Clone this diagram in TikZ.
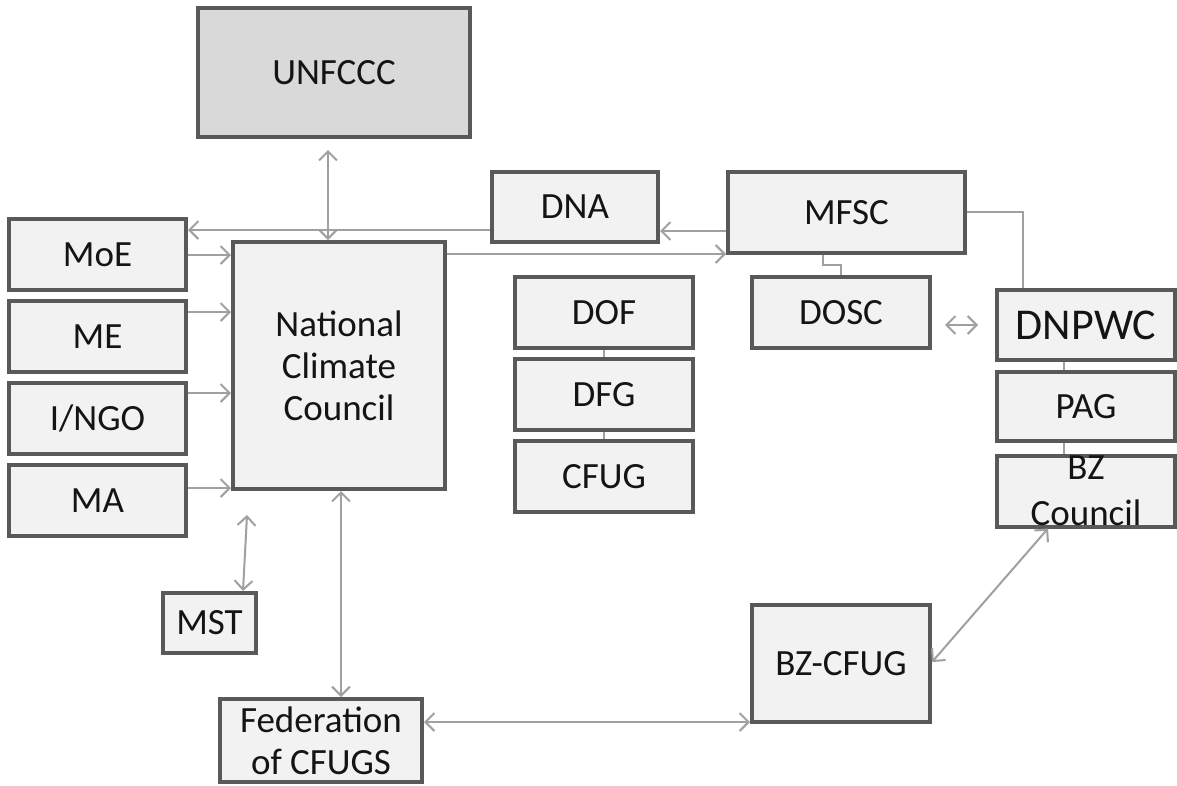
\documentclass[tikz,border=0pt]{standalone}
\usepackage{fontspec}
\setmainfont{Carlito}
\usetikzlibrary{arrows.meta}
\definecolor{boxfill}{HTML}{F2F2F2}
\definecolor{boxdark}{HTML}{D9D9D9}
\definecolor{boxline}{HTML}{595959}
\definecolor{conn}{HTML}{A0A0A0}
\definecolor{txt}{HTML}{141414}
\begin{document}
\begin{tikzpicture}[x=1pt,y=-1pt,
  box/.style={draw=boxline, line width=4pt, fill=boxfill, text=txt, inner sep=0pt,
    font=\fontsize{37}{42}\selectfont, align=center},
  link/.style={draw=conn, line width=2pt},
  arr/.style={link, -{Straight Barb[length=9pt,width=18pt,line width=2pt]}},
  darr/.style={link, {Straight Barb[length=9pt,width=18pt,line width=2pt]}-{Straight Barb[length=9pt,width=18pt,line width=2pt]}},
]
\useasboundingbox (0,0) rectangle (1177,785);
% nodes
\node[box, fill=boxdark, minimum width=272pt, minimum height=129pt] (unf) at (334,72.5) {UNFCCC};
\node[box, minimum width=166pt, minimum height=70pt] (dna) at (575,207) {DNA};
\node[box, minimum width=237pt, minimum height=81pt] (mfsc) at (846.5,212.5) {MFSC};
\node[box, minimum width=177pt, minimum height=71pt] (moe) at (97.5,254.5) {MoE};
\node[box, minimum width=177pt, minimum height=71pt] (me) at (97.5,336.5) {ME};
\node[box, minimum width=177pt, minimum height=71pt] (ingo) at (97.5,418.5) {I/NGO};
\node[box, minimum width=177pt, minimum height=71pt] (ma) at (97.5,500.5) {MA};
\node[box, minimum width=212pt, minimum height=247pt] (ncc) at (339,365.5) {National\\Climate\\Council};
\node[box, minimum width=178pt, minimum height=71pt] (dof) at (604,312.5) {DOF};
\node[box, minimum width=178pt, minimum height=71pt] (dfg) at (604,394.5) {DFG};
\node[box, minimum width=178pt, minimum height=71pt] (cfug) at (604,476.5) {CFUG};
\node[box, minimum width=178pt, minimum height=71pt] (dosc) at (841,312.5) {DOSC};
\node[box, minimum width=178pt, minimum height=70pt, font=\fontsize{44}{50}\selectfont] (dnpwc) at (1086,325) {DNPWC};
\node[box, minimum width=178pt, minimum height=69pt] (pag) at (1086,406.5) {PAG};
\node[box, minimum width=178pt, minimum height=71pt, font=\fontsize{37}{46}\selectfont] (bzc) at (1086,491) {BZ\\Council};
\node[box, minimum width=93pt, minimum height=60pt] (mst) at (209.5,623) {MST};
\node[box, minimum width=178pt, minimum height=117pt] (bzcfug) at (841,663.5) {BZ-CFUG};
\node[box, minimum width=202pt, minimum height=83pt] (fed) at (321,740.5) {Federation\\of CFUGS};
% free ends
\coordinate (unfend) at (328,150);
\coordinate (mstup) at (247,515);
\coordinate (doscR) at (945,325);
\coordinate (dnpwcL) at (978,325);
\coordinate (mfscbend) at (1023,212);
% connectors
\draw[darr] (unfend) -- (ncc.north -| unfend);
\draw[arr] (dna.west |- 0,230) -- (moe.east |- 0,230);
\draw[arr] (mfsc.west |- 0,231) -- (dna.east |- 0,231);
\draw[arr] (ncc.east |- 0,254) -- (mfsc.west |- 0,254);
\draw[arr] (moe.east |- 0,255) -- (ncc.west |- 0,255);
\draw[arr] (me.east |- 0,312) -- (ncc.west |- 0,312);
\draw[arr] (ingo.east |- 0,393) -- (ncc.west |- 0,393);
\draw[arr] (ma.east |- 0,488) -- (ncc.west |- 0,488);
\draw[darr] (mstup) -- (mst.north -| 243,0);
\draw[darr] (ncc.south -| 341,0) -- (fed.north -| 341,0);
\draw[darr] (fed.east |- 0,722) -- (bzcfug.west |- 0,722);
\draw[darr] (bzcfug.east |- 0,662) -- (bzc.south -| 1048,0);
\draw[darr] (doscR) -- (dnpwcL);
\draw[link, line width=1.5pt] (mfsc.east |- mfscbend) -- (mfscbend) -- (dnpwc.north -| mfscbend);
\draw[link, line width=1.5pt] (mfsc.south -| 823,0) -- (823,265) -- (841,265) -- (dosc.north);
\draw[link, line width=1.5pt] (dof.south) -- (dfg.north);
\draw[link, line width=1.5pt] (dfg.south) -- (cfug.north);
\draw[link, line width=1.5pt] (dnpwc.south -| 1064,0) -- (pag.north -| 1064,0);
\draw[link, line width=1.5pt] (pag.south -| 1064,0) -- (bzc.north -| 1064,0);
\end{tikzpicture}
\end{document}
